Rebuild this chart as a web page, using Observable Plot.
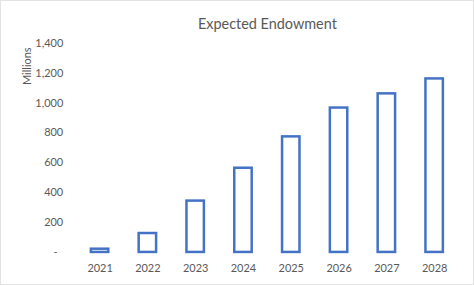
<!DOCTYPE html>
<html>
<head>
<meta charset="utf-8">
<script src="https://cdn.jsdelivr.net/npm/d3@7"></script>
<script src="https://cdn.jsdelivr.net/npm/@observablehq/plot@0.6"></script>
<style>
  html, body { margin: 0; padding: 0; background: #fff; }
  #wrap { width: 474px; height: 285px; box-sizing: border-box; border: 1px solid #e3e3e3; overflow: hidden; position: relative; }
  #wrap svg { position: absolute; left: -1px; top: -1px; }
</style>
</head>
<body>
<div id="wrap"></div>
<script>
const years = ["2021", "2022", "2023", "2024", "2025", "2026", "2027", "2028"];
const endowment = [30, 135, 352, 572, 782, 975, 1070, 1170];
const yTicks = [0, 200, 400, 600, 800, 1000, 1200, 1400];
const titleText = "Expected Endowment";
const yLabel = "Millions";

const data = years.map((y, i) => ({year: y, value: endowment[i]}));
const textColor = "#595959";
const fmt = d => d === 0 ? "-\u00a0\u00a0" : d3.format(",")(d);

const chart = Plot.plot({
  width: 474,
  height: 285,
  marginTop: 43,
  marginBottom: 32,
  marginLeft: 76,
  marginRight: 14,
  style: {fontFamily: "Lato, 'Open Sans', sans-serif", fontSize: "11px", color: textColor, background: "white"},
  x: {domain: years, paddingInner: 0.58, paddingOuter: 0.29, label: null},
  y: {domain: [0, 1400], label: null},
  marks: [
    Plot.axisY({ticks: yTicks, tickFormat: fmt, tickSize: 0, tickPadding: 13, label: null, fill: textColor}),
    Plot.axisX({tickSize: 0, tickPadding: 12, label: null, fill: textColor}),
    Plot.barY(data, {x: "year", y: "value", fill: "white", stroke: "#4472C4", strokeWidth: 2.5, insetTop: 1.25, insetLeft: 1.25, insetRight: 1.25}),
    Plot.text([titleText], {frameAnchor: "top", dy: -25, text: d => d, fontSize: 14.5, fill: textColor}),
    Plot.text([yLabel], {frameAnchor: "top-left", textAnchor: "middle", dx: -53, dy: 23, rotate: -90, text: d => d, fontSize: 11, fill: textColor})
  ]
});
document.getElementById("wrap").appendChild(chart);
</script>
</body>
</html>
